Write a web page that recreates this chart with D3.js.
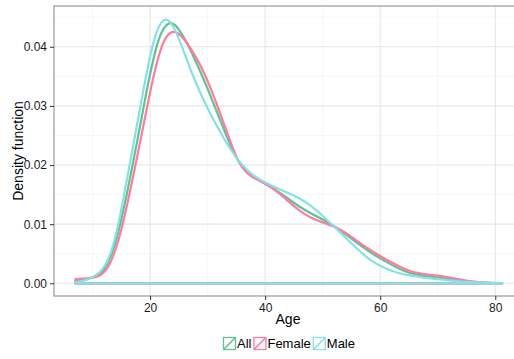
<!DOCTYPE html>
<html>
<head>
<meta charset="utf-8">
<script src="https://cdn.jsdelivr.net/npm/d3@7"></script>
<style>
  html, body { margin: 0; padding: 0; background: #fff; }
  svg { display: block; font-family: "Liberation Sans", Arial, Helvetica, sans-serif; }
</style>
</head>
<body>
<svg id="chart" width="514" height="359"></svg>
<script>
// ---- data ----
const ages = [7, 9, 11, 12, 13, 14, 15, 16, 17, 18, 19, 20, 21, 22, 23, 24, 25, 26, 27, 28, 29, 30,
  31, 32, 33, 34, 35, 36, 37, 38, 40, 42, 44, 46, 48, 50, 52, 54, 56, 58, 60, 62, 64, 66, 68, 70,
  72, 74, 76, 78, 81.2];
const densityAll = [0.0004, 0.0006, 0.0013, 0.0022, 0.0040, 0.0068, 0.0108, 0.0152, 0.0202, 0.0253,
  0.0305, 0.0355, 0.0398, 0.0427, 0.0440, 0.0441, 0.0430, 0.0414, 0.0395, 0.0374, 0.0352, 0.0329,
  0.0305, 0.0280, 0.0256, 0.0232, 0.0212, 0.0197, 0.0187, 0.0180, 0.0169, 0.0157, 0.0143, 0.0129,
  0.0118, 0.0108, 0.0097, 0.0083, 0.0068, 0.0054, 0.0042, 0.0031, 0.0021, 0.0015, 0.0012, 0.0010,
  0.0007, 0.0004, 0.0002, 0.0001, 0.0000];
const densityFemale = [0.0007, 0.0008, 0.0011, 0.0018, 0.0032, 0.0056, 0.0090, 0.0132, 0.0178, 0.0226,
  0.0275, 0.0324, 0.0368, 0.0402, 0.0421, 0.0427, 0.0423, 0.0412, 0.0398, 0.0382, 0.0364, 0.0342,
  0.0318, 0.0292, 0.0265, 0.0238, 0.0213, 0.0195, 0.0185, 0.0178, 0.0169, 0.0156, 0.0139, 0.0122,
  0.0110, 0.0103, 0.0096, 0.0086, 0.0071, 0.0058, 0.0046, 0.0035, 0.0025, 0.0018, 0.0015, 0.0013,
  0.0010, 0.0006, 0.0003, 0.0001, 0.0000];
const densityMale = [0.0002, 0.0005, 0.0015, 0.0027, 0.0045, 0.0078, 0.0125, 0.0177, 0.0230, 0.0283,
  0.0336, 0.0386, 0.0424, 0.0444, 0.0448, 0.0436, 0.0414, 0.0388, 0.0362, 0.0338, 0.0316, 0.0296,
  0.0277, 0.0259, 0.0242, 0.0226, 0.0212, 0.0200, 0.0190, 0.0182, 0.0170, 0.0161, 0.0153, 0.0144,
  0.0131, 0.0114, 0.0096, 0.0077, 0.0058, 0.0041, 0.0029, 0.0021, 0.0015, 0.0012, 0.0009, 0.0007,
  0.0005, 0.0003, 0.0002, 0.0001, 0.0000];
const seriesNames = ["All", "Female", "Male"];
const seriesColors = ["#5EC48D", "#FF7BA0", "#87E0E9"];
const xTicks = [20, 40, 60, 80];
const xMinorTicks = [10, 30, 50, 70];
const yTicks = [0.00, 0.01, 0.02, 0.03, 0.04];
const yMinorTicks = [0.005, 0.015, 0.025, 0.035, 0.045];

const seriesValues = [densityAll, densityFemale, densityMale];

// ---- layout ----
const svg = d3.select("#chart");
const panel = { left: 54, top: 6, right: 523.5, bottom: 296 };
const x = d3.scaleLinear().domain([3.29, 84.91]).range([panel.left, panel.right]);
const y = d3.scaleLinear().domain([-0.00215, 0.0469]).range([panel.bottom, panel.top]);

const font = '"Liberation Sans", Arial, Helvetica, sans-serif';

// panel background
svg.append("rect").attr("x", panel.left).attr("y", panel.top)
  .attr("width", panel.right - panel.left).attr("height", panel.bottom - panel.top)
  .attr("fill", "#fff");

// minor grid
const grid = svg.append("g");
grid.selectAll(".vminor").data(xMinorTicks).join("line")
  .attr("x1", d => x(d)).attr("x2", d => x(d)).attr("y1", panel.top).attr("y2", panel.bottom)
  .attr("stroke", "#F6F6F6").attr("stroke-width", 1);
grid.selectAll(".hminor").data(yMinorTicks).join("line")
  .attr("y1", d => y(d)).attr("y2", d => y(d)).attr("x1", panel.left).attr("x2", panel.right)
  .attr("stroke", "#F6F6F6").attr("stroke-width", 1);
// major grid
grid.selectAll(".vmajor").data(xTicks).join("line")
  .attr("x1", d => x(d)).attr("x2", d => x(d)).attr("y1", panel.top).attr("y2", panel.bottom)
  .attr("stroke", "#E6E6E6").attr("stroke-width", 1.1);
grid.selectAll(".hmajor").data(yTicks).join("line")
  .attr("y1", d => y(d)).attr("y2", d => y(d)).attr("x1", panel.left).attr("x2", panel.right)
  .attr("stroke", "#E6E6E6").attr("stroke-width", 1.1);

// density lines (outline incl. baseline)
const line = d3.line().x(d => x(d[0])).y(d => y(d[1])).curve(d3.curveBasis);
seriesValues.forEach((vals, i) => {
  const pts = ages.map((a, j) => [a, vals[j]]);
  const curvePath = line(pts);
  const a0 = ages[0], a1 = ages[ages.length - 1];
  const base = `L${x(a1)},${y(0)}L${x(a0)},${y(0)}Z`;
  svg.append("path")
    .attr("d", curvePath + base)
    .attr("fill", "none")
    .attr("stroke", seriesColors[i])
    .attr("stroke-width", 2.2)
    .attr("stroke-linejoin", "round");
});

// panel border
svg.append("rect").attr("x", panel.left).attr("y", panel.top)
  .attr("width", panel.right - panel.left).attr("height", panel.bottom - panel.top)
  .attr("fill", "none").attr("stroke", "#8F8F8F").attr("stroke-width", 1.1);

// axes
const xAxis = d3.axisBottom(x).tickValues(xTicks).tickSize(4).tickPadding(3).tickFormat(d3.format("d"));
const gx = svg.append("g").attr("transform", `translate(0,${panel.bottom})`).call(xAxis);
gx.select(".domain").remove();
gx.selectAll(".tick line").attr("stroke", "#333");
gx.selectAll("text").attr("font-family", font).attr("font-size", 12).attr("fill", "#1a1a1a");

const yAxis = d3.axisLeft(y).tickValues(yTicks).tickSize(4).tickPadding(3).tickFormat(d3.format(".2f"));
const gy = svg.append("g").attr("transform", `translate(${panel.left},0)`).call(yAxis);
gy.select(".domain").remove();
gy.selectAll(".tick line").attr("stroke", "#333");
gy.selectAll("text").attr("font-family", font).attr("font-size", 12).attr("fill", "#1a1a1a");

// axis titles
svg.append("text").attr("x", 288).attr("y", 323.5).attr("text-anchor", "middle")
  .attr("font-family", font).attr("font-size", 14).attr("fill", "#000").text("Age");
svg.append("text").attr("transform", `translate(23,151) rotate(-90)`).attr("text-anchor", "middle")
  .attr("font-family", font).attr("font-size", 14).attr("fill", "#000").text("Density function");

// legend
const legend = svg.append("g");
let lx = 223;
const ky = 337, ks = 13;
seriesNames.forEach((name, i) => {
  const g = legend.append("g");
  g.append("rect").attr("x", lx + 0.5).attr("y", ky + 0.5).attr("width", ks - 1).attr("height", ks - 1)
    .attr("fill", "#fff").attr("stroke", seriesColors[i]).attr("stroke-width", 1.3);
  g.append("line").attr("x1", lx + 1).attr("y1", ky + ks - 1).attr("x2", lx + ks - 1).attr("y2", ky + 1)
    .attr("stroke", seriesColors[i]).attr("stroke-width", 1.6);
  const t = g.append("text").attr("x", lx + ks + 1).attr("y", ky + 11)
    .attr("font-family", font).attr("font-size", 13).attr("fill", "#000").text(name);
  lx += ks + 1 + t.node().getComputedTextLength() + 2;
});
</script>
</body>
</html>
